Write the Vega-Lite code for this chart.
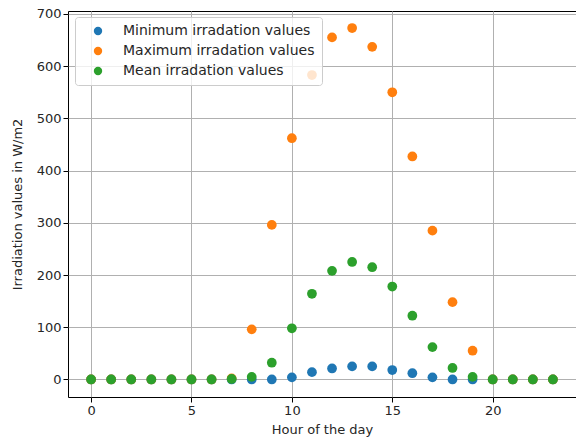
{
  "$schema": "https://vega.github.io/schema/vega-lite/v6.json",
  "width": 508,
  "height": 386,
  "autosize": {"type": "none"},
  "padding": {"left": 68, "top": 11, "right": 0, "bottom": 46},
  "background": "white",
  "config": {
    "font": "DejaVu Sans",
    "view": {"stroke": "#000000", "strokeWidth": 1},
    "axis": {
      "domain": false,
      "grid": true,
      "gridColor": "#b0b0b0",
      "gridWidth": 1,
      "tickColor": "#000000",
      "tickSize": 5,
      "labelFont": "DejaVu Sans",
      "labelFontSize": 13,
      "labelColor": "#262626",
      "titleFont": "DejaVu Sans",
      "titleFontSize": 13,
      "titleFontWeight": "normal",
      "titleColor": "#262626"
    }
  },
  "data": {
    "values": [
      {"hour": 0, "series": "Minimum irradation values", "value": 0},
      {"hour": 1, "series": "Minimum irradation values", "value": 0},
      {"hour": 2, "series": "Minimum irradation values", "value": 0},
      {"hour": 3, "series": "Minimum irradation values", "value": 0},
      {"hour": 4, "series": "Minimum irradation values", "value": 0},
      {"hour": 5, "series": "Minimum irradation values", "value": 0},
      {"hour": 6, "series": "Minimum irradation values", "value": 0},
      {"hour": 7, "series": "Minimum irradation values", "value": 0},
      {"hour": 8, "series": "Minimum irradation values", "value": 0},
      {"hour": 9, "series": "Minimum irradation values", "value": 0},
      {"hour": 10, "series": "Minimum irradation values", "value": 4},
      {"hour": 11, "series": "Minimum irradation values", "value": 14},
      {"hour": 12, "series": "Minimum irradation values", "value": 21},
      {"hour": 13, "series": "Minimum irradation values", "value": 25},
      {"hour": 14, "series": "Minimum irradation values", "value": 25},
      {"hour": 15, "series": "Minimum irradation values", "value": 18},
      {"hour": 16, "series": "Minimum irradation values", "value": 12},
      {"hour": 17, "series": "Minimum irradation values", "value": 4},
      {"hour": 18, "series": "Minimum irradation values", "value": 0},
      {"hour": 19, "series": "Minimum irradation values", "value": 0},
      {"hour": 20, "series": "Minimum irradation values", "value": 0},
      {"hour": 21, "series": "Minimum irradation values", "value": 0},
      {"hour": 22, "series": "Minimum irradation values", "value": 0},
      {"hour": 23, "series": "Minimum irradation values", "value": 0},
      {"hour": 0, "series": "Maximum irradation values", "value": 0},
      {"hour": 1, "series": "Maximum irradation values", "value": 0},
      {"hour": 2, "series": "Maximum irradation values", "value": 0},
      {"hour": 3, "series": "Maximum irradation values", "value": 0},
      {"hour": 4, "series": "Maximum irradation values", "value": 0},
      {"hour": 5, "series": "Maximum irradation values", "value": 0},
      {"hour": 6, "series": "Maximum irradation values", "value": 0},
      {"hour": 7, "series": "Maximum irradation values", "value": 2},
      {"hour": 8, "series": "Maximum irradation values", "value": 96},
      {"hour": 9, "series": "Maximum irradation values", "value": 296},
      {"hour": 10, "series": "Maximum irradation values", "value": 462},
      {"hour": 11, "series": "Maximum irradation values", "value": 583},
      {"hour": 12, "series": "Maximum irradation values", "value": 655},
      {"hour": 13, "series": "Maximum irradation values", "value": 673},
      {"hour": 14, "series": "Maximum irradation values", "value": 637},
      {"hour": 15, "series": "Maximum irradation values", "value": 550},
      {"hour": 16, "series": "Maximum irradation values", "value": 427},
      {"hour": 17, "series": "Maximum irradation values", "value": 285},
      {"hour": 18, "series": "Maximum irradation values", "value": 148},
      {"hour": 19, "series": "Maximum irradation values", "value": 55},
      {"hour": 20, "series": "Maximum irradation values", "value": 0},
      {"hour": 21, "series": "Maximum irradation values", "value": 0},
      {"hour": 22, "series": "Maximum irradation values", "value": 0},
      {"hour": 23, "series": "Maximum irradation values", "value": 0},
      {"hour": 0, "series": "Mean irradation values", "value": 0},
      {"hour": 1, "series": "Mean irradation values", "value": 0},
      {"hour": 2, "series": "Mean irradation values", "value": 0},
      {"hour": 3, "series": "Mean irradation values", "value": 0},
      {"hour": 4, "series": "Mean irradation values", "value": 0},
      {"hour": 5, "series": "Mean irradation values", "value": 0},
      {"hour": 6, "series": "Mean irradation values", "value": 0},
      {"hour": 7, "series": "Mean irradation values", "value": 1},
      {"hour": 8, "series": "Mean irradation values", "value": 5},
      {"hour": 9, "series": "Mean irradation values", "value": 32},
      {"hour": 10, "series": "Mean irradation values", "value": 98},
      {"hour": 11, "series": "Mean irradation values", "value": 164},
      {"hour": 12, "series": "Mean irradation values", "value": 208},
      {"hour": 13, "series": "Mean irradation values", "value": 225},
      {"hour": 14, "series": "Mean irradation values", "value": 215},
      {"hour": 15, "series": "Mean irradation values", "value": 178},
      {"hour": 16, "series": "Mean irradation values", "value": 122},
      {"hour": 17, "series": "Mean irradation values", "value": 62},
      {"hour": 18, "series": "Mean irradation values", "value": 22},
      {"hour": 19, "series": "Mean irradation values", "value": 5},
      {"hour": 20, "series": "Mean irradation values", "value": 0},
      {"hour": 21, "series": "Mean irradation values", "value": 0},
      {"hour": 22, "series": "Mean irradation values", "value": 0},
      {"hour": 23, "series": "Mean irradation values", "value": 0}
    ]
  },
  "mark": {"type": "point", "filled": true, "opacity": 1, "size": 95, "shape": "circle"},
  "encoding": {
    "x": {
      "field": "hour",
      "type": "quantitative",
      "scale": {"domain": [-1.15, 24.15], "nice": false, "zero": false},
      "axis": {"values": [0, 5, 10, 15, 20], "title": "Hour of the day", "titlePadding": 6}
    },
    "y": {
      "field": "value",
      "type": "quantitative",
      "scale": {"domain": [-33.6, 705.6], "nice": false, "zero": false},
      "axis": {"values": [0, 100, 200, 300, 400, 500, 600, 700], "title": "Irradiation values in W/m2", "titlePadding": 12}
    },
    "color": {
      "field": "series",
      "type": "nominal",
      "scale": {
        "domain": ["Minimum irradation values", "Maximum irradation values", "Mean irradation values"],
        "range": ["#1f77b4", "#ff7f0e", "#2ca02c"]
      },
      "legend": {
        "title": null,
        "orient": "none",
        "legendX": 7,
        "legendY": 6,
        "padding": 7,
        "fillColor": "rgba(255,255,255,0.8)",
        "strokeColor": "#cccccc",
        "cornerRadius": 3,
        "symbolType": "circle",
        "symbolSize": 70,
        "symbolOpacity": 1,
        "symbolOffset": 9,
        "labelFont": "DejaVu Sans",
        "labelFontSize": 14,
        "labelColor": "#262626",
        "labelOffset": 18,
        "labelLimit": 0,
        "rowPadding": 6
      }
    }
  }
}
